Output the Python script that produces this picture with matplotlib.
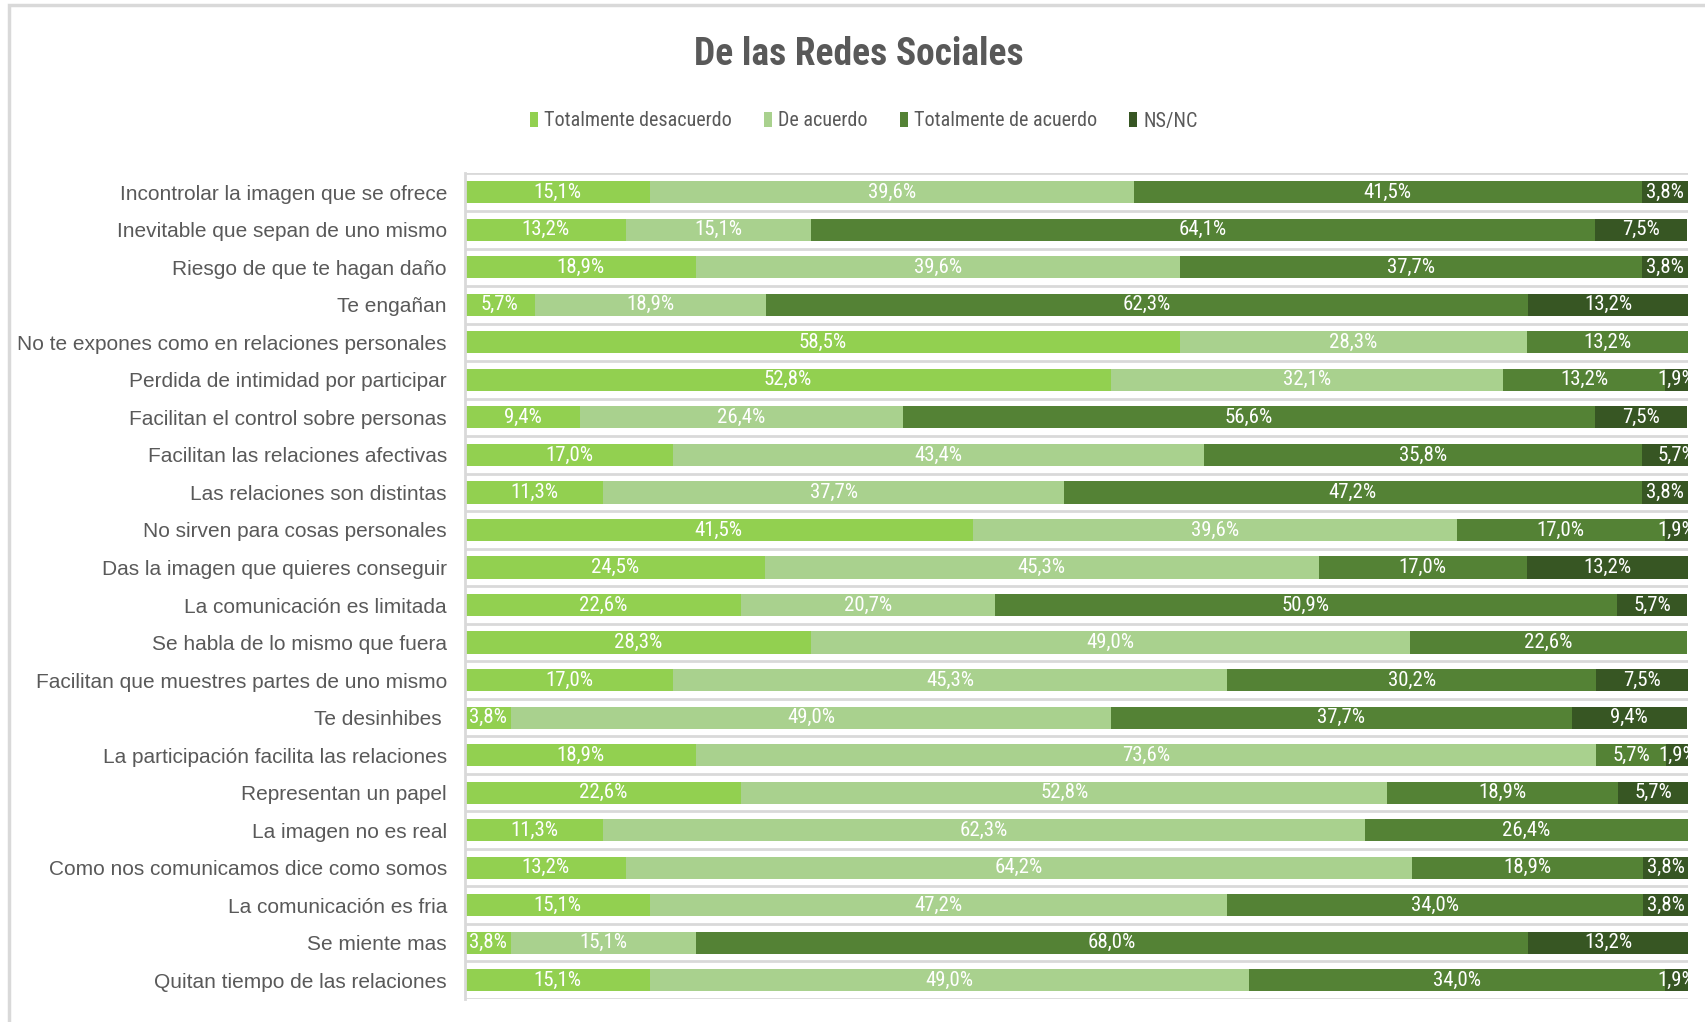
import matplotlib
matplotlib.use("Agg")
import matplotlib.pyplot as plt
from matplotlib import font_manager
from matplotlib.patches import Patch, Rectangle

# fonts: narrow one for numbers/legend/title, wider one for category labels
installed = {f.name for f in font_manager.fontManager.ttflist}


def pick(*names):
    for n in names:
        if n in installed:
            return n
    return "DejaVu Sans"


narrow_font = pick("Liberation Sans Narrow", "DejaVu Sans Condensed", "Roboto Condensed", "Liberation Sans")
label_font = pick("Liberation Sans", "Noto Sans", "DejaVu Sans")

text_gray = "#595959"
grid_gray = "#d9d9d9"

# data
categories = [
    "Incontrolar la imagen que se ofrece",
    "Inevitable que sepan de uno mismo",
    "Riesgo de que te hagan daño",
    "Te engañan",
    "No te expones como en relaciones personales",
    "Perdida de intimidad por participar",
    "Facilitan el control sobre personas",
    "Facilitan las relaciones afectivas",
    "Las relaciones son distintas",
    "No sirven para cosas personales",
    "Das la imagen que quieres conseguir",
    "La comunicación es limitada",
    "Se habla de lo mismo que fuera",
    "Facilitan que muestres partes de uno mismo",
    "Te desinhibes ",
    "La participación facilita las relaciones",
    "Representan un papel",
    "La imagen no es real",
    "Como nos comunicamos dice como somos",
    "La comunicación es fria",
    "Se miente mas",
    "Quitan tiempo de las relaciones",
]

totalmente_desacuerdo = [15.1, 13.2, 18.9, 5.7, 58.5, 52.8, 9.4, 17.0, 11.3, 41.5, 24.5,
                         22.6, 28.3, 17.0, 3.8, 18.9, 22.6, 11.3, 13.2, 15.1, 3.8, 15.1]
de_acuerdo = [39.6, 15.1, 39.6, 18.9, 28.3, 32.1, 26.4, 43.4, 37.7, 39.6, 45.3,
              20.7, 49.0, 45.3, 49.0, 73.6, 52.8, 62.3, 64.2, 47.2, 15.1, 49.0]
totalmente_de_acuerdo = [41.5, 64.1, 37.7, 62.3, 13.2, 13.2, 56.6, 35.8, 47.2, 17.0, 17.0,
                         50.9, 22.6, 30.2, 37.7, 5.7, 18.9, 26.4, 18.9, 34.0, 68.0, 34.0]
ns_nc = [3.8, 7.5, 3.8, 13.2, 0.0, 1.9, 7.5, 5.7, 3.8, 1.9, 13.2,
         5.7, 0.0, 7.5, 9.4, 1.9, 5.7, 0.0, 3.8, 3.8, 13.2, 1.9]

series_names = ["Totalmente desacuerdo", "De acuerdo", "Totalmente de acuerdo", "NS/NC"]
series_values = [totalmente_desacuerdo, de_acuerdo, totalmente_de_acuerdo, ns_nc]
colors = ["#92d050", "#a9d18e", "#548235", "#375623"]

fig = plt.figure(figsize=(17.05, 10.22), dpi=100)
W, H = 1705, 1022
ax = fig.add_axes([465 / W, 1 - 999 / H, (1688 - 465) / W, (999 - 173.5) / H])

# chart-area border (only top and left visible, the rest is cropped)
fig.add_artist(Rectangle((8.5 / W, -0.2), 2.0, 1.2 - 5 / H, transform=fig.transFigure,
                         fill=False, edgecolor=grid_gray, linewidth=2.5, clip_on=False))

y = list(range(len(categories)))
left = [0.0] * len(categories)
for name, vals, col in zip(series_names, series_values, colors):
    ax.barh(y, vals, left=left, height=0.59, color=col, label=name, zorder=2)
    for i, v in enumerate(vals):
        if v > 0:
            ax.text(left[i] + v / 2, i, f"{v:.1f}%".replace(".", ","), ha="center", va="center",
                    color="white", fontsize=15, family=narrow_font, clip_on=True, zorder=3)
    left = [a + b for a, b in zip(left, vals)]

ax.set_xlim(0, 100)
ax.set_ylim(len(categories) - 0.5, -0.5)
for b in range(len(categories) + 1):
    ax.axhline(b - 0.5, color=grid_gray, linewidth=2, zorder=1)

ax.set_yticks(y)
ax.set_yticklabels(categories, family=label_font, fontsize=15, color=text_gray)
ax.set_xticks([])
ax.tick_params(axis="y", length=0, pad=13)
for s in ["top", "right", "bottom"]:
    ax.spines[s].set_visible(False)
ax.spines["left"].set_color(grid_gray)
ax.spines["left"].set_linewidth(2)

fig.text(859 / W, 1 - 54 / H, "De las Redes Sociales", ha="center", va="center",
         fontsize=27, fontweight="bold", color=text_gray, family=narrow_font)

handles = [Patch(facecolor=c, label=n) for n, c in zip(series_names, colors)]
leg = fig.legend(handles=handles, loc="center", bbox_to_anchor=(864 / W, 1 - 121 / H), ncol=4,
                 frameon=False, handlelength=0.4, handleheight=0.75, handletextpad=0.3,
                 columnspacing=1.6, prop={"family": narrow_font, "size": 14.5})
for t in leg.get_texts():
    t.set_color(text_gray)

fig.savefig("out.png", dpi=100)
